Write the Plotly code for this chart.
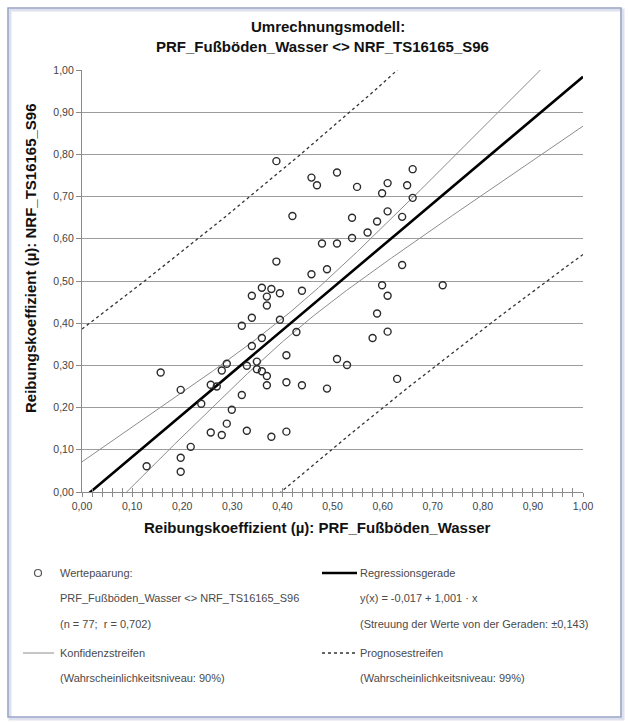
import numpy as np
import plotly.graph_objects as go

# Paired friction coefficients (µ): PRF_Fußböden_Wasser (x) vs NRF_TS16165_S96 (y)
x_vals = [0.388, 0.388, 0.359, 0.378, 0.339, 0.369, 0.395, 0.369, 0.339, 0.319,
          0.395, 0.359, 0.339, 0.289, 0.279, 0.329, 0.349, 0.349, 0.359, 0.369,
          0.369, 0.157, 0.197, 0.257, 0.269, 0.319, 0.238, 0.299, 0.289, 0.257,
          0.279, 0.329, 0.378, 0.217, 0.197, 0.129, 0.197, 0.458, 0.469, 0.509,
          0.549, 0.599, 0.610, 0.649, 0.660, 0.660, 0.420, 0.539, 0.610, 0.639,
          0.589, 0.570, 0.539, 0.479, 0.509, 0.458, 0.489, 0.639, 0.599, 0.610,
          0.720, 0.439, 0.589, 0.610, 0.580, 0.428, 0.408, 0.509, 0.529, 0.408,
          0.439, 0.489, 0.629, 0.408]
y_vals = [0.784, 0.546, 0.484, 0.481, 0.465, 0.463, 0.471, 0.442, 0.413, 0.394,
          0.408, 0.365, 0.346, 0.304, 0.288, 0.299, 0.309, 0.291, 0.286, 0.275,
          0.253, 0.283, 0.242, 0.254, 0.250, 0.230, 0.209, 0.195, 0.162, 0.141,
          0.135, 0.145, 0.131, 0.107, 0.081, 0.061, 0.048, 0.745, 0.727, 0.757,
          0.723, 0.708, 0.732, 0.727, 0.765, 0.697, 0.654, 0.650, 0.665, 0.652,
          0.641, 0.615, 0.602, 0.589, 0.589, 0.516, 0.528, 0.538, 0.490, 0.465,
          0.490, 0.477, 0.423, 0.380, 0.365, 0.379, 0.324, 0.315, 0.301, 0.260,
          0.253, 0.245, 0.268, 0.143]

# Regression model as stated in the legend
intercept = -0.017
slope = 1.001
scatter_sd = 0.143
n_pairs = 77
t_conf90 = 1.665   # two-sided 90 %, 75 df
t_pred99 = 2.643   # two-sided 99 %, 75 df

tick_values = [0.0, 0.1, 0.2, 0.3, 0.4, 0.5, 0.6, 0.7, 0.8, 0.9, 1.0]

xa = np.array(x_vals)
x_mean = xa.mean()
sxx = ((xa - x_mean) ** 2).sum()

xs = np.linspace(0.0, 1.0, 401)
fit = intercept + slope * xs
lever = 1.0 / n_pairs + (xs - x_mean) ** 2 / sxx
conf_half = t_conf90 * scatter_sd * np.sqrt(lever)
pred_half = t_pred99 * scatter_sd * np.sqrt(1.0 + lever)

FONT = "Liberation Sans, Arial, sans-serif"
W, H = 629, 722
L, R, T, B = 82, 46, 70, 230
PW, PH = W - L - R, H - T - B


def px(xp):
    return (xp - L) / PW


def py(yp):
    return (H - B - yp) / PH


fig = go.Figure()

conf_style = dict(color="#8c8c8c", width=1)
pred_style = dict(color="#333333", width=1.3, dash="dot")

for yy in (fit + pred_half, fit - pred_half):
    fig.add_trace(go.Scatter(x=xs, y=yy, mode="lines", line=pred_style,
                             hoverinfo="skip", showlegend=False))
for yy in (fit + conf_half, fit - conf_half):
    fig.add_trace(go.Scatter(x=xs, y=yy, mode="lines", line=conf_style,
                             hoverinfo="skip", showlegend=False))

fig.add_trace(go.Scatter(x=xs, y=fit, mode="lines",
                         line=dict(color="#000000", width=2.6),
                         showlegend=False, name="Regressionsgerade"))

fig.add_trace(go.Scatter(x=x_vals, y=y_vals, mode="markers",
                         marker=dict(symbol="circle-open", size=7,
                                     color="#2b2b2b", line=dict(width=1.4)),
                         showlegend=False, name="Wertepaarung"))

# second x axis only for the inward half of the crossing tick marks
fig.add_trace(go.Scatter(x=[0, 1], y=[0, 0], xaxis="x2", mode="lines",
                         line=dict(width=0), hoverinfo="skip", showlegend=False))

axis_font = dict(family=FONT, size=10.5, color="#444444")

fig.update_layout(
    width=W, height=H,
    margin=dict(l=L, r=R, t=T, b=B),
    paper_bgcolor="white", plot_bgcolor="white",
    separators=",.",
    xaxis=dict(range=[0, 1], tickvals=tick_values, tickformat=".2f",
               showgrid=False, zeroline=False,
               showline=True, linecolor="#8a8a8a", linewidth=1.2,
               ticks="outside", ticklen=4, tickcolor="#8a8a8a",
               minor=dict(dtick=0.02, ticks="outside", ticklen=4,
                          tickcolor="#8a8a8a"),
               tickfont=axis_font),
    xaxis2=dict(range=[0, 1], overlaying="x", anchor="y", side="bottom",
                showgrid=False, zeroline=False, showticklabels=False,
                ticks="inside", ticklen=4, tickcolor="#8a8a8a", dtick=0.02,
                tick0=0),
    yaxis=dict(range=[0, 1], tickvals=tick_values, tickformat=".2f",
               showgrid=True, gridcolor="#9c9c9c", gridwidth=1.4,
               zeroline=False,
               showline=True, linecolor="#8a8a8a", linewidth=1.2,
               ticks="outside", ticklen=5, tickcolor="#8a8a8a",
               tickfont=axis_font),
)

shapes = []
# outer frame
shapes.append(dict(type="rect", xref="paper", yref="paper",
                   x0=px(10), x1=px(623), y0=py(719), y1=py(10),
                   line=dict(color="#dde1ee", width=3), layer="below"))
shapes.append(dict(type="rect", xref="paper", yref="paper",
                   x0=px(8), x1=px(621), y0=py(717), y1=py(8),
                   line=dict(color="#9aa3c6", width=1.6), layer="below"))

anns = []
title_font = dict(family=FONT, size=15, color="#111111")
anns.append(dict(text="<b>Umrechnungsmodell:</b>", x=px(328), y=py(27),
                 xref="paper", yref="paper", showarrow=False, font=title_font,
                 xanchor="center", yanchor="middle"))
anns.append(dict(text="<b>PRF_Fußböden_Wasser <> NRF_TS16165_S96</b>",
                 x=px(322), y=py(47), xref="paper", yref="paper",
                 showarrow=False, font=title_font,
                 xanchor="center", yanchor="middle"))

axis_title_font = dict(family=FONT, size=15, color="#111111")
anns.append(dict(text="<b>Reibungskoeffizient (µ): PRF_Fußböden_Wasser</b>",
                 x=px(317), y=py(527), xref="paper", yref="paper",
                 showarrow=False, font=axis_title_font,
                 xanchor="center", yanchor="middle"))
anns.append(dict(text="<b>Reibungskoeffizient (µ): NRF_TS16165_S96</b>",
                 x=px(30), y=py(258), xref="paper", yref="paper",
                 showarrow=False, font=axis_title_font, textangle=-90,
                 xanchor="center", yanchor="middle"))

# legend block
leg_font = dict(family=FONT, size=11, color="#4a4a4a")
rows = [573, 598, 624, 653, 678]
left_txt = ["Wertepaarung:",
            "PRF_Fußböden_Wasser <> NRF_TS16165_S96",
            "(n = 77;  r = 0,702)",
            "Konfidenzstreifen",
            "(Wahrscheinlichkeitsniveau: 90%)"]
right_txt = ["Regressionsgerade",
             "y(x) = -0,017 + 1,001 · x",
             "(Streuung der Werte von der Geraden: ±0,143)",
             "Prognosestreifen",
             "(Wahrscheinlichkeitsniveau: 99%)"]
for yp, lt, rt in zip(rows, left_txt, right_txt):
    anns.append(dict(text=lt, x=px(58), y=py(yp), xref="paper", yref="paper",
                     showarrow=False, font=leg_font, xanchor="left",
                     yanchor="middle"))
    anns.append(dict(text=rt, x=px(358), y=py(yp), xref="paper", yref="paper",
                     showarrow=False, font=leg_font, xanchor="left",
                     yanchor="middle"))

shapes.append(dict(type="circle", xref="paper", yref="paper",
                   x0=px(34.5), x1=px(41.5), y0=py(576.5), y1=py(569.5),
                   line=dict(color="#555555", width=1.2)))
shapes.append(dict(type="line", xref="paper", yref="paper",
                   x0=px(322), x1=px(357), y0=py(573), y1=py(573),
                   line=dict(color="#000000", width=2.6)))
shapes.append(dict(type="line", xref="paper", yref="paper",
                   x0=px(23), x1=px(54), y0=py(653), y1=py(653),
                   line=dict(color="#8c8c8c", width=1)))
shapes.append(dict(type="line", xref="paper", yref="paper",
                   x0=px(322), x1=px(357), y0=py(653), y1=py(653),
                   line=dict(color="#333333", width=1.3, dash="dot")))

fig.update_layout(shapes=shapes, annotations=anns)

fig.write_html("out.html")
